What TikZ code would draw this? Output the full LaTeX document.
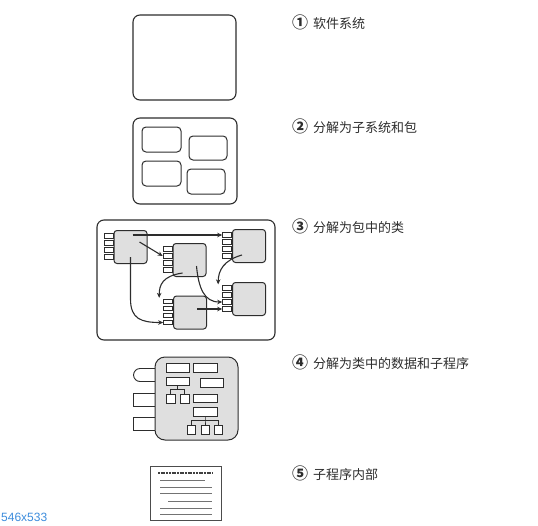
\documentclass[tikz,border=0pt]{standalone}
\usepackage{fontspec}
\newfontfamily\cjk{Noto Sans CJK SC}
\newfontfamily\tagfont{Liberation Sans}
\usetikzlibrary{arrows.meta,calc,shapes.misc}
\definecolor{ink}{RGB}{45,45,45}
\definecolor{dimblue}{RGB}{60,140,220}
\newcommand{\stagenum}[1]{{\fontsize{16}{13}\selectfont\bfseries #1}\hspace{5pt}}

\begin{document}
\begin{tikzpicture}[x=1pt,y=-1pt,
    >={Stealth[length=5pt,width=4.5pt]},
    outer/.style={draw=ink,line width=1.1pt,rounded corners=7pt,inner sep=0pt},
    pack/.style={draw=ink,line width=1pt,rounded corners=4pt,inner sep=0pt,minimum width=39pt,minimum height=25pt},
    cls/.style={draw=ink,line width=1pt,fill=gray!25,rounded corners=3pt,inner sep=0pt,minimum size=33pt},
    port/.style={draw=ink,line width=0.8pt,fill=white,inner sep=0pt,minimum width=9pt,minimum height=4.5pt,anchor=east},
    tab/.style={draw=ink,line width=0.9pt,fill=white,inner sep=0pt,minimum width=22pt,minimum height=13pt,anchor=east},
    item/.style={draw=ink,line width=0.8pt,fill=white,inner sep=0pt},
    dep/.style={draw=ink,line width=1.1pt,->},
    stagelabel/.style={anchor=west,inner sep=0pt,text=ink,font=\cjk\fontsize{13}{13}\selectfont}]
  \useasboundingbox (0,0) rectangle (538,525);

  % 1 software system
  \node[outer,minimum width=103pt,minimum height=85pt] (sys) at (184.5,57.5) {};

  % 2 subsystems and packages
  \node[outer,minimum width=104pt,minimum height=86pt] (subsys) at (185,161) {};
  \node[pack] (p1) at (161.5,139.5) {};
  \node[pack,minimum width=38pt,minimum height=24pt] (p2) at (208,148) {};
  \node[pack] (p3) at (161.5,173.5) {};
  \node[pack,minimum width=38pt] (p4) at (206,181.5) {};

  % 3 classes in packages
  \node[outer,minimum width=178pt,minimum height=120pt] (pkg) at (186,280) {};
  \node[cls] (A) at (130.5,247) {};
  \node[cls] (B) at (189.5,260) {};
  \node[cls] (C) at (249,246) {};
  \node[cls] (D) at (190,312.5) {};
  \node[cls] (E) at (249,299) {};
  \foreach \c in {A,B,C,D,E}
    \foreach \k in {1,...,4}
      \node[port] (\c\k) at ($(\c.north west)+(0,7*\k-1)$) {};

  \draw[dep] ($(A.center |- C1.west)+(2,0)$) -- (C1.west);
  \draw[dep] ($(A.center)+(9,-5)$) -- (B2.west);
  \draw[dep] ($(A.center)+(0,10)$) -- ($(A.center)+(0,52)$)
    .. controls ($(A.center)+(0,72)$) and ($(D4.west)+(-22,0)$) .. (D4.west);
  \draw[dep] ($(B.center)+(-7,13)$)
    .. controls ($(B.center)+(-27,16)$) and ($(D1.north west)+(-4,-14)$) .. ($(D1.north west)+(-4,-1)$);
  \draw[dep] ($(B.center)+(7,6)$)
    .. controls ($(B.center)+(9,28)$) and ($(E3.west)+(-18,0)$) .. (E3.west);
  \draw[dep] ($(C.center)+(-7,9)$)
    .. controls ($(C.center)+(-25,14)$) and ($(E1.north west)+(-4,-15)$) .. ($(E1.north west)+(-4,-1)$);
  \draw[dep] ($(E4.west -| D.center)+(7,0)$) -- (E4.west);

  % 4 data and routines of a class
  \node[tab,rounded rectangle,rounded rectangle right arc=none] (t1) at (156,375) {};
  \node[tab] (t2) at (156,399.5) {};
  \node[tab] (t3) at (156,424) {};
  \node[cls,minimum size=83pt,rounded corners=10pt] (inner) at (196.5,398.5) {};
  \node[item,minimum width=23pt,minimum height=9pt] (r1) at (177.5,367.5) {};
  \node[item,minimum width=24pt,minimum height=9pt] (r2) at (205,367.5) {};
  \node[item,minimum width=23pt,minimum height=8pt] (r3) at (177.5,381) {};
  \node[item,minimum width=23pt,minimum height=9pt] (r4) at (211.5,382.5) {};
  \node[item,minimum size=9pt] (r3a) at (170.5,398.5) {};
  \node[item,minimum size=9pt] (r3b) at (184.5,398.5) {};
  \node[item,minimum width=24pt,minimum height=8pt] (r5) at (205,398) {};
  \node[item,minimum width=24pt,minimum height=9pt] (r6) at (205,411.5) {};
  \node[item,minimum width=8pt,minimum height=9pt] (r6a) at (191,430) {};
  \node[item,minimum width=8pt,minimum height=9pt] (r6b) at (205,430) {};
  \node[item,minimum width=8pt,minimum height=9pt] (r6c) at (218,430) {};
  \coordinate (j1) at (177.5,389.5);
  \coordinate (j2) at (205,420.5);
  \draw[ink,line width=0.8pt] (r3.south) -- (j1) (r3a.north) |- (j1) -| (r3b.north);
  \draw[ink,line width=0.8pt] (r6.south) -- (j2) -- (r6b.north) (r6a.north) |- (j2) -| (r6c.north);

  % 5 inside a routine
  \node[draw=black!70,line width=0.7pt,inner sep=0pt,minimum width=71pt,minimum height=54pt] (code) at (185.5,493) {};
  \draw[black!75,line width=1.3pt,dash pattern=on 2pt off 0.7pt] (158,473) -- (213,473);
  \foreach \a/\b/\y in {160/205/480,160/212/487,160/212/493,168/212/501,160/212/508,160/212/514}
    \draw[black!55,line width=0.6pt] (\a,\y) -- (\b,\y);

  % stage labels
  \node[stagelabel] (s1) at (292,22) {\stagenum{①}软件系统};
  \node[stagelabel] (s2) at (292,126) {\stagenum{②}分解为子系统和包};
  \node[stagelabel] (s3) at (292,226) {\stagenum{③}分解为包中的类};
  \node[stagelabel] (s4) at (292,362) {\stagenum{④}分解为类中的数据和子程序};
  \node[stagelabel] (s5) at (292,473) {\stagenum{⑤}子程序内部};

  \node[anchor=south west,inner sep=0pt,text=dimblue,font=\tagfont\fontsize{12}{12}\selectfont] (dims) at (1,522) {546x533};
\end{tikzpicture}
\end{document}
